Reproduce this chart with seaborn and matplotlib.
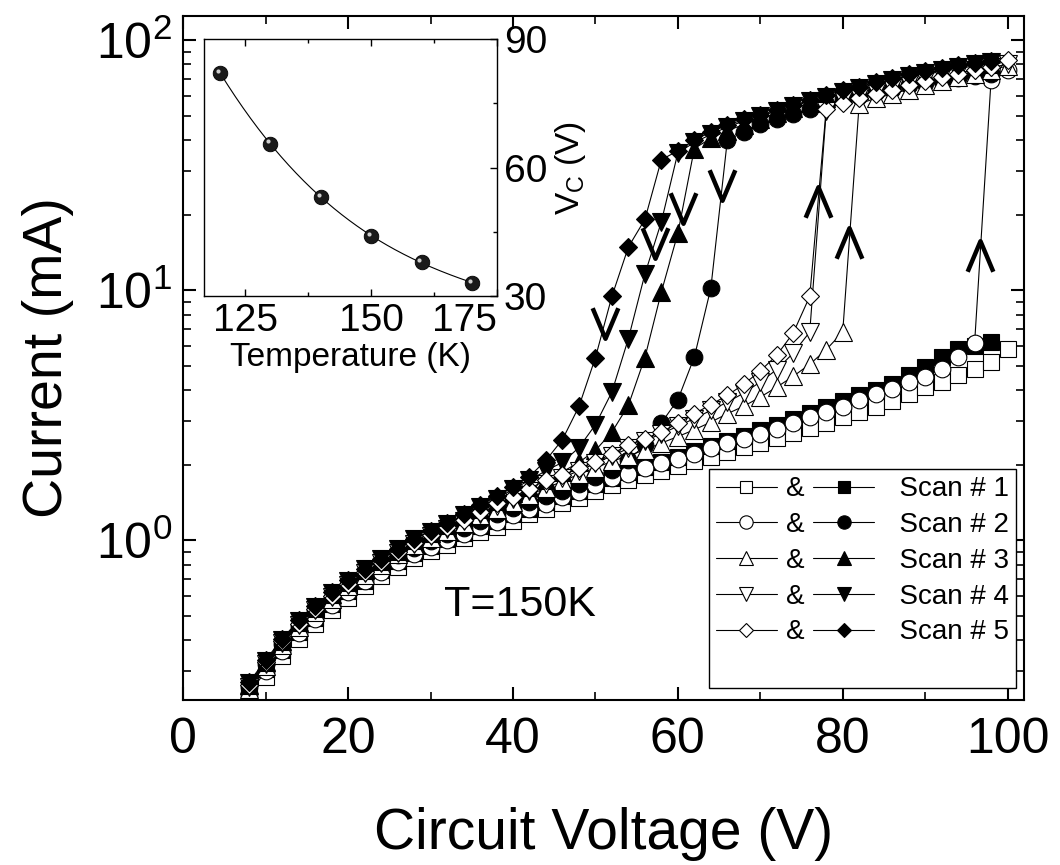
import numpy as np
import matplotlib
matplotlib.use('Agg')
import matplotlib.pyplot as plt
import seaborn as sns
from matplotlib.lines import Line2D
from matplotlib.path import Path
from matplotlib.ticker import MultipleLocator, FixedLocator, LogLocator, NullFormatter
import matplotlib.transforms as mtransforms

sns.set_style('ticks')
plt.rcParams['font.family'] = ['Liberation Sans', 'DejaVu Sans']
plt.rcParams['mathtext.fontset'] = 'custom'
plt.rcParams['mathtext.rm'] = 'Liberation Sans'
plt.rcParams['mathtext.it'] = 'Liberation Sans:italic'
plt.rcParams['mathtext.bf'] = 'Liberation Sans:bold'
for k in ('text.color', 'axes.labelcolor', 'xtick.color', 'ytick.color', 'axes.edgecolor'):
    plt.rcParams[k] = 'black'

# ---------------- data ----------------
voltage_up = list(range(8, 101, 2))     # ramp-up sweep (open symbols)
voltage_down = list(range(8, 99, 2))    # ramp-down sweep (filled symbols)

scan1_up = [0.235, 0.285, 0.345, 0.405, 0.465, 0.525, 0.59, 0.655, 0.72, 0.785, 0.85, 0.905,
            0.96, 1.02, 1.08, 1.13, 1.2, 1.27, 1.33, 1.41, 1.48, 1.57, 1.66, 1.74, 1.82, 1.9,
            1.98, 2.07, 2.16, 2.26, 2.36, 2.46, 2.57, 2.69, 2.82, 2.95, 3.1, 3.25, 3.42, 3.6,
            3.85, 4.1, 4.3, 4.57, 4.86, 5.17, 5.84]
scan1_down = [0.25, 0.305, 0.365, 0.43, 0.49, 0.555, 0.625, 0.69, 0.76, 0.83, 0.89, 0.95,
              1.01, 1.07, 1.14, 1.19, 1.27, 1.34, 1.42, 1.5, 1.58, 1.68, 1.78, 1.87, 1.96, 2.06,
              2.16, 2.27, 2.38, 2.5, 2.62, 2.75, 2.9, 3.05, 3.22, 3.4, 3.6, 3.8, 3.98, 4.23,
              4.57, 4.93, 5.41, 5.84, 6.0, 6.21]
scan2_up = [0.244, 0.30, 0.36, 0.425, 0.485, 0.55, 0.62, 0.685, 0.75, 0.82, 0.885, 0.94,
            1.0, 1.06, 1.13, 1.18, 1.26, 1.33, 1.4, 1.49, 1.56, 1.66, 1.77, 1.85, 1.94, 2.03,
            2.12, 2.22, 2.33, 2.44, 2.55, 2.67, 2.8, 2.95, 3.1, 3.26, 3.41, 3.63, 3.86, 4.04,
            4.3, 4.5, 4.86, 5.41, 6.15, 69.6, 75.9]
scan2_down = [0.26, 0.32, 0.385, 0.455, 0.52, 0.59, 0.66, 0.73, 0.8, 0.87, 0.93, 0.99,
              1.06, 1.12, 1.2, 1.28, 1.35, 1.42, 1.5, 1.58, 1.68, 1.8, 1.92, 2.1, 2.4, 2.95,
              3.65, 5.41, 10.2, 39.8, 43.0, 46.4, 48.6, 50.9, 53.0, 55.5, 58.0, 60.0, 62.0, 64.0,
              66.0, 67.5, 69.0, 70.5, 72.0, 73.5]
scan3_up = [0.255, 0.315, 0.38, 0.45, 0.515, 0.585, 0.655, 0.73, 0.8, 0.88, 0.955, 1.02,
            1.09, 1.17, 1.26, 1.34, 1.42, 1.52, 1.62, 1.72, 1.84, 1.95, 2.07, 2.18, 2.3, 2.45,
            2.6, 2.77, 2.97, 3.21, 3.44, 3.74, 4.1, 4.53, 5.06, 5.79, 6.81, 55.8, 58.5, 61.0,
            63.5, 66.0, 68.5, 71.0, 73.5, 76.0, 79.0]
scan3_down = [0.265, 0.325, 0.395, 0.47, 0.535, 0.61, 0.68, 0.76, 0.83, 0.91, 1.0, 1.07,
              1.15, 1.25, 1.34, 1.44, 1.54, 1.64, 1.75, 1.88, 2.05, 2.29, 2.71, 3.47, 5.38, 9.85,
              16.9, 36.9, 40.5, 43.5, 46.0, 48.5, 51.0, 53.5, 56.0, 58.5, 61.0, 63.5, 66.0, 68.5,
              71.0, 73.0, 75.0, 77.0, 79.0, 80.5]
scan4_up = [0.26, 0.32, 0.39, 0.46, 0.525, 0.595, 0.665, 0.74, 0.81, 0.89, 0.97, 1.04,
            1.11, 1.19, 1.28, 1.37, 1.46, 1.57, 1.68, 1.78, 1.9, 2.03, 2.18, 2.33, 2.5, 2.67,
            2.86, 3.07, 3.31, 3.57, 3.88, 4.3, 4.82, 5.61, 6.81, 52.0, 57.5, 59.5, 62.0, 64.5,
            67.0, 69.5, 72.0, 74.0, 76.0, 78.0, 80.0]
scan4_down = [0.268, 0.33, 0.4, 0.475, 0.54, 0.615, 0.685, 0.765, 0.84, 0.92, 1.01, 1.08,
              1.16, 1.26, 1.36, 1.47, 1.6, 1.74, 1.9, 2.05, 2.35, 2.9, 3.92, 6.41, 11.6, 18.8,
              35.5, 39.0, 42.0, 45.0, 47.5, 49.8, 52.0, 54.5, 57.0, 59.5, 62.0, 64.5, 67.0, 69.5,
              72.0, 74.0, 76.0, 78.0, 80.0, 81.5]
scan5_up = [0.265, 0.325, 0.395, 0.465, 0.53, 0.6, 0.67, 0.745, 0.82, 0.9, 0.98, 1.05,
            1.13, 1.21, 1.3, 1.41, 1.49, 1.61, 1.74, 1.82, 1.94, 2.06, 2.22, 2.4, 2.55, 2.71,
            2.94, 3.21, 3.49, 3.8, 4.21, 4.76, 5.5, 6.75, 9.46, 53.3, 56.0, 58.5, 61.0, 63.5,
            66.0, 68.5, 71.0, 73.5, 76.0, 78.5, 83.2]
scan5_down = [0.271, 0.333, 0.404, 0.479, 0.544, 0.621, 0.692, 0.77, 0.845, 0.927, 1.016, 1.09,
              1.17, 1.27, 1.38, 1.5, 1.64, 1.8, 2.09, 2.53, 3.43, 5.38, 9.46, 14.9, 19.2, 33.3,
              36.1, 39.8, 43.0, 45.7, 48.2, 50.1, 52.8, 55.0, 57.5, 60.3, 63.0, 65.0, 68.1, 70.9,
              73.1, 75.4, 77.4, 79.4, 81.1, 82.6]

scan_labels = ['Scan # 1', 'Scan # 2', 'Scan # 3', 'Scan # 4', 'Scan # 5']
x_ticks = [0, 20, 40, 60, 80, 100]

# inset: critical voltage vs temperature
temperature_K = [120, 130, 140, 150, 160, 170]
critical_V = [82.0, 65.6, 53.0, 44.0, 37.9, 33.1]

# switching arrows: (series id, start voltage of the jump)
down_arrows = [('scan5', 50), ('scan4', 56), ('scan3', 60), ('scan2', 64)]
up_arrows = [('scan5', 76), ('scan3', 80), ('scan2', 96)]

# ---------------- styles ----------------
ups = {'scan1': scan1_up, 'scan2': scan2_up, 'scan3': scan3_up, 'scan4': scan4_up, 'scan5': scan5_up}
downs = {'scan1': scan1_down, 'scan2': scan2_down, 'scan3': scan3_down, 'scan4': scan4_down, 'scan5': scan5_down}
markers = {'scan1': 's', 'scan2': 'o', 'scan3': '^', 'scan4': 'v', 'scan5': 'D'}
msizes = {'scan1': 11.5, 'scan2': 12, 'scan3': 12.5, 'scan4': 12.5, 'scan5': 9.5}
down_frac = [0.57, 0.59, 0.3, 0.7]
up_frac = [0.5, 0.39, 0.33]

fig = plt.figure(figsize=(10.6, 8.65), dpi=100)
ax = fig.add_axes([0.1729, 0.1908, 0.7932, 0.7907])
ax.set_yscale('log')

order = ['scan1', 'scan2', 'scan3', 'scan4', 'scan5']
for key in order:
    for sweep, xs, face in (('up', voltage_up, 'white'), ('down', voltage_down, 'black')):
        ys = ups[key] if sweep == 'up' else downs[key]
        sns.lineplot(x=xs, y=ys, ax=ax, sort=False, estimator=None, legend=False,
                     color='black', lw=0.8, marker=markers[key], markersize=msizes[key],
                     mfc=face, mec='black', mew=0.8)

chev_down = Path([(-0.42, 0.5), (0, -0.5), (0.42, 0.5)], [Path.MOVETO, Path.LINETO, Path.LINETO])
chev_up = Path([(-0.42, -0.5), (0, 0.5), (0.42, -0.5)], [Path.MOVETO, Path.LINETO, Path.LINETO])


def arrow_pos(xs, ys, v0, f):
    i = xs.index(v0)
    x = xs[i] + f * (xs[i + 1] - xs[i])
    ly = np.log10(ys[i]) + f * (np.log10(ys[i + 1]) - np.log10(ys[i]))
    return x, 10 ** ly


for (key, v0), f in zip(down_arrows, down_frac):
    x, y = arrow_pos(voltage_down, downs[key], v0, f)
    ax.plot([x], [y], ls='none', marker=chev_down, ms=22, mfc='none', mec='black', mew=3.2, zorder=5)
for (key, v0), f in zip(up_arrows, up_frac):
    x, y = arrow_pos(voltage_up, ups[key], v0, f)
    ax.plot([x], [y], ls='none', marker=chev_up, ms=22, mfc='none', mec='black', mew=3.2, zorder=5)

ax.set_xlim(0, 102)
ax.set_ylim(0.23, 125)
ax.set_xticks(x_ticks)
ax.xaxis.set_minor_locator(MultipleLocator(10))
ax.yaxis.set_minor_locator(LogLocator(base=10, subs=np.arange(2, 10), numticks=20))
ax.yaxis.set_minor_formatter(NullFormatter())
ax.tick_params(which='major', direction='in', length=9.5, width=1.5, top=True, right=True, labelsize=36)
ax.tick_params(which='minor', direction='in', length=5.5, width=1.2, top=True, right=True)
ax.tick_params(axis='x', which='major', pad=12)
ax.tick_params(axis='y', which='major', pad=8)
for s in ax.spines.values():
    s.set_linewidth(1.5)
    s.set_color('black')
ax.set_xlabel('Circuit Voltage (V)', fontsize=41, labelpad=32)
ax.set_ylabel('Current (mA)', fontsize=40, labelpad=16)

ax.text(0.4, 0.139, 'T=150K', transform=ax.transAxes, ha='center', va='center', fontsize=31)

# legend
h_open = [Line2D([], [], color='black', lw=0.8, marker=markers[k], ms=msizes[k] * 0.8,
                 mfc='white', mec='black', mew=0.8) for k in order]
h_fill = [Line2D([], [], color='black', lw=0.8, marker=markers[k], ms=msizes[k] * 0.8,
                 mfc='black', mec='black', mew=0.8) for k in order]
blank = Line2D([], [], color='none')
leg = ax.legend(handles=h_open + [blank] + h_fill + [blank],
                labels=['&'] * 5 + [''] + ['  ' + s for s in scan_labels] + [''],
                ncol=2, loc='lower right', bbox_to_anchor=(0.9905, 0.0175), borderaxespad=0,
                frameon=True, fancybox=False, edgecolor='black', fontsize=20,
                handlelength=2.2, handletextpad=0.35, columnspacing=0.3, labelspacing=0.35,
                borderpad=0.25)
leg.get_frame().set_linewidth(1.0)
leg.get_frame().set_alpha(1)

# ---------------- inset ----------------
axin = fig.add_axes([0.1925, 0.6578, 0.2764, 0.2971])
axin.set_facecolor('white')
T_fit = np.linspace(min(temperature_K), max(temperature_K), 200)
coef = np.polyfit(temperature_K, critical_V, 3)
sns.lineplot(x=T_fit, y=np.polyval(coef, T_fit), ax=axin, color='black', lw=0.8, legend=False)
sns.scatterplot(x=temperature_K, y=critical_V, ax=axin, s=110, color='#1a1a1a',
                edgecolor='black', linewidth=0.6, zorder=3, legend=False)
hl = mtransforms.offset_copy(axin.transData, fig=fig, x=-1.6, y=1.6, units='points')
axin.scatter(temperature_K, critical_V, s=9, color='#cfcfcf', transform=hl, zorder=4, linewidths=0)
axin.set_xlim(116.8, 175)
axin.set_ylim(30, 90)
axin.set_xticks([125, 150, 175])
axin.xaxis.set_minor_locator(FixedLocator([137.5, 162.5]))
axin.set_yticks([30, 60, 90])
axin.yaxis.set_minor_locator(FixedLocator([45, 75]))
axin.yaxis.tick_right()
axin.yaxis.set_label_position('right')
axin.tick_params(which='major', direction='in', length=5, width=1.0, labelsize=28, top=True, right=True, left=False)
axin.tick_params(which='minor', direction='in', length=3, width=1.0, top=True, right=True, left=False)
axin.tick_params(axis='x', pad=5)
axin.tick_params(axis='y', pad=5)
for s in axin.spines.values():
    s.set_linewidth(1.0)
    s.set_color('black')
axin.set_xlabel('Temperature (K)', fontsize=24, labelpad=2)
axin.set_ylabel(r'V$_{\mathregular{C}}$ (V)', fontsize=24, labelpad=4)

fig.canvas.draw()
xl = axin.get_xticklabels()
xl[-1].set_horizontalalignment('right')

fig.savefig('out.png', dpi=100)
